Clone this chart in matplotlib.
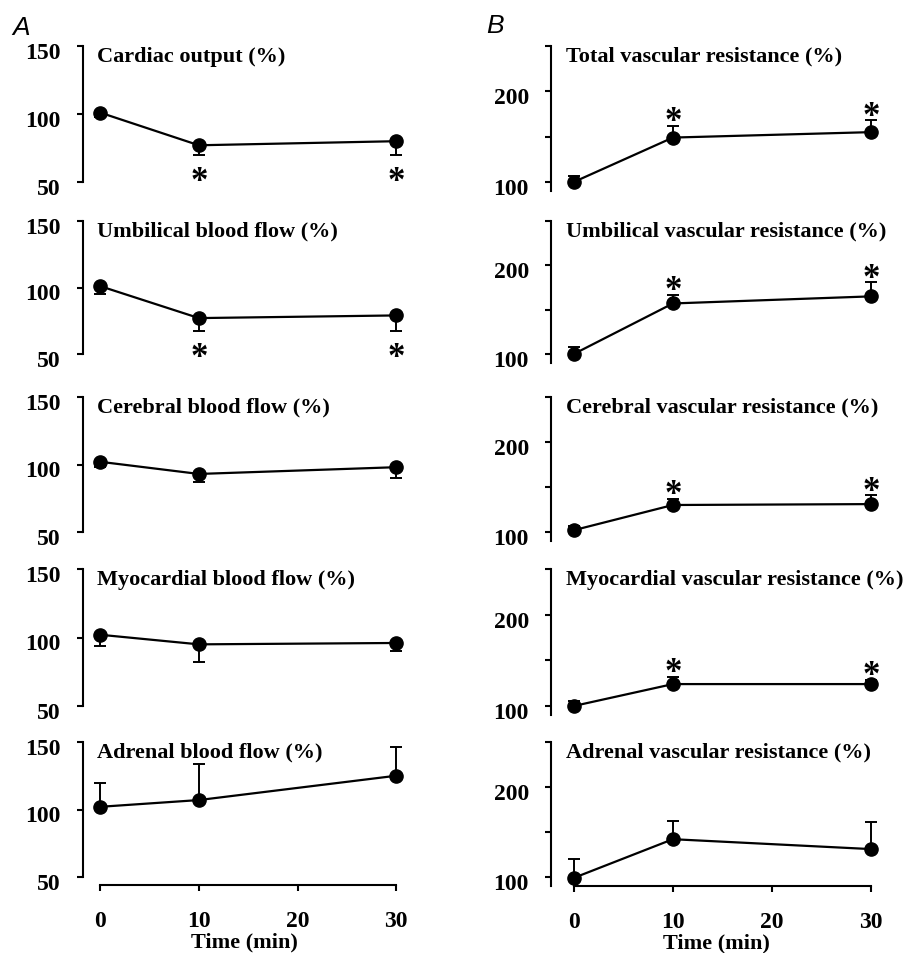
import matplotlib
matplotlib.use("Agg")
import matplotlib.pyplot as plt
import matplotlib.transforms as mtransforms

plt.rcParams["font.family"] = "Liberation Serif"
plt.rcParams["font.weight"] = "bold"
plt.rcParams["axes.labelweight"] = "bold"

# data (percent of baseline)
time = [0, 10, 30]

flow_titles = ["Cardiac output (%)", "Umbilical blood flow (%)", "Cerebral blood flow (%)",
               "Myocardial blood flow (%)", "Adrenal blood flow (%)"]
flow_mean = [[101, 77, 80], [101, 77, 79], [102, 93, 98], [102, 95, 96], [102, 107, 125]]
flow_err = [[3, 7, 10], [6, 10, 12], [4, 6, 8], [8, 13, 6], [18, 27, 21]]
flow_err_up = [False, False, False, False, True]
flow_sig = [[0, 1, 1], [0, 1, 1], [0, 0, 0], [0, 0, 0], [0, 0, 0]]

res_titles = ["Total vascular resistance (%)", "Umbilical vascular resistance (%)",
              "Cerebral vascular resistance (%)", "Myocardial vascular resistance (%)",
              "Adrenal vascular resistance (%)"]
res_mean = [[100, 149, 155], [100, 157, 165], [102, 130, 131], [100, 124, 124], [99, 142, 131]]
res_err = [[7, 13, 13], [8, 10, 16], [5, 7, 10], [6, 8, 5], [21, 20, 30]]
res_sig = [[0, 1, 1], [0, 1, 1], [0, 1, 1], [0, 1, 1], [0, 0, 0]]

W, H = 911, 954
fig = plt.figure(figsize=(W / 100, H / 100), dpi=100)

row_top = [47, 222, 398, 570, 743]
row_bot = [183, 355, 533, 707, 878]


def rect(left, top, width, bottom):
    return [left / W, 1 - bottom / H, width / W, (bottom - top) / H]


def style_axes(ax, last):
    ax.spines["top"].set_visible(False)
    ax.spines["right"].set_visible(False)
    ax.spines["left"].set_linewidth(1.5)
    ax.tick_params(axis="y", direction="out", length=4, width=1.5, pad=12,
                   labelsize=17)
    shift = mtransforms.ScaledTranslation(0, -4 / 100, fig.dpi_scale_trans)
    for lab in ax.get_yticklabels():
        lab.set_transform(lab.get_transform() + shift)
    if last:
        ax.spines["bottom"].set_linewidth(1.5)
        ax.spines["bottom"].set_bounds(0, 30)
        ax.set_xticks([0, 10, 20, 30])
        ax.tick_params(axis="x", direction="out", length=4, width=1.5, pad=14,
                       labelsize=17)
        ax.set_xlabel("Time (min)", fontsize=16, fontweight="bold", labelpad=0)
    else:
        ax.spines["bottom"].set_visible(False)
        ax.set_xticks([])


def draw(ax, mean, err, up, sig, title, title_dx):
    lower = [0 if up else e for e in err]
    upper = [e if up else 0 for e in err]
    ax.errorbar(time, mean, yerr=[lower, upper], fmt="none", ecolor="black",
                elinewidth=1.4, capsize=4.5, capthick=1.4, zorder=2)
    ax.plot(time, mean, color="black", lw=1.6, marker="o", markersize=9.5,
            zorder=3)
    for t, m, e, s in zip(time, mean, err, sig):
        if not s:
            continue
        if up:
            ax.annotate("*", (t, m + e), xytext=(0, -9), textcoords="offset points",
                        ha="center", va="bottom", fontsize=25)
        else:
            ax.annotate("*", (t, m - e), xytext=(0, -31), textcoords="offset points",
                        ha="center", va="bottom", fontsize=25)
    ax.annotate(title, (0, 1), xycoords="axes fraction", xytext=(title_dx, -7),
                textcoords="offset points", ha="left", va="center", fontsize=16)


for i in range(5):
    last = i == 4
    # column A: blood flow
    axa = fig.add_axes(rect(83, row_top[i], 323, row_bot[i]))
    axa.set_xlim(-1.75, 31)
    axa.set_ylim(50, 150)
    axa.set_yticks([50, 100, 150])
    draw(axa, flow_mean[i], flow_err[i], flow_err_up[i], flow_sig[i], flow_titles[i], 10)
    style_axes(axa, last)
    if last:
        axa.spines["bottom"].set_position(("outward", 6))

    # column B: vascular resistance
    hb = (row_bot[i] - row_top[i]) / 15
    axb = fig.add_axes(rect(551, row_top[i], 330, row_bot[i] + hb))
    axb.set_xlim(-2.3, 31)
    axb.set_ylim(90, 250)
    axb.set_yticks([100, 150, 200, 250])
    axb.set_yticklabels(["100", "", "200", ""])
    draw(axb, res_mean[i], res_err[i], True, res_sig[i], res_titles[i], 11)
    style_axes(axb, last)

fig.text(12 / W, 1 - 28 / H, "A", fontsize=19, style="italic", fontweight="normal",
         fontfamily="Liberation Sans", ha="left", va="center")
fig.text(486 / W, 1 - 26 / H, "B", fontsize=19, style="italic", fontweight="normal",
         fontfamily="Liberation Sans", ha="left", va="center")

fig.savefig("out.png", dpi=100)
